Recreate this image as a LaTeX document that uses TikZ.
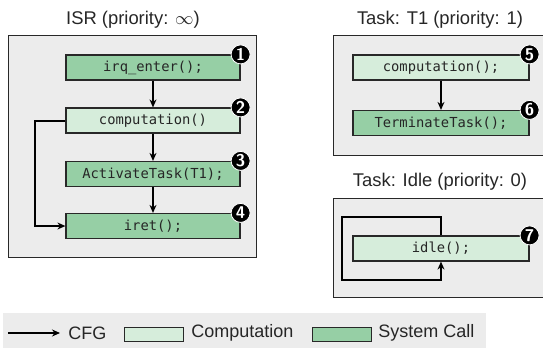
\documentclass[tikz,border=0pt]{standalone}
\usepackage{fontspec}
\setmainfont{Liberation Sans}
\setmonofont{DejaVu Sans Mono}
\usetikzlibrary{arrows.meta}
\definecolor{compfill}{RGB}{214,237,219}
\definecolor{sysfill}{RGB}{150,207,165}
\definecolor{framefill}{RGB}{236,236,236}
\definecolor{edge}{RGB}{40,40,40}
\begin{document}
\begin{tikzpicture}[x=0.5pt,y=-0.5pt,
  stmt/.style={draw=edge,line width=0.6pt,minimum width=87pt,minimum height=12.5pt,
    inner sep=0pt,font=\fontsize{6.9}{8}\ttfamily,text=black!85},
  comp/.style={stmt,fill=compfill},
  sysc/.style={stmt,fill=sysfill},
  frame/.style={draw=edge,line width=0.5pt,fill=framefill},
  title/.style={font=\fontsize{9.2}{11}\selectfont,text=black!85},
  legtext/.style={anchor=west,inner sep=0pt,font=\fontsize{9}{11}\selectfont,text=black!85},
  legbox/.style={draw=edge,line width=0.5pt,minimum width=29.5pt,minimum height=7pt,inner sep=0pt},
  badge/.style={circle,fill=black,draw=white,line width=0.4pt,minimum size=9.5pt,inner sep=0pt,
    text=white,font=\fontsize{8.5}{9}\bfseries\sffamily},
  cfg/.style={-{Stealth[length=4pt,width=3.5pt]},line width=0.75pt},
  loopedge/.style={cfg,line width=1pt}]
\useasboundingbox (0,0) rectangle (543,349);
\clip (0,0) rectangle (543,349);

% ---- ISR ----
\node[title] (isrt) at (133,20) {ISR (priority: $\infty$)};
\draw[frame] (9,35) rectangle (257,257);
\node[sysc] (irq) at (153,67.5) {irq\_enter();};
\node[comp] (comp1) at (153,120.5) {computation()};
\node[sysc] (act) at (153,174) {ActivateTask(T1);};
\node[sysc] (iret) at (153,226) {iret();};
\draw[cfg] (irq) -- (comp1);
\draw[cfg] (comp1) -- (act);
\draw[cfg] (act) -- (iret);
\draw[loopedge] (comp1.west) -- ++(-30,0) |- (iret.west);
\node[badge] (n1) at (irq.north east) {1};
\node[badge] (n2) at (comp1.north east) {2};
\node[badge] (n3) at (act.north east) {3};
\node[badge] (n4) at (iret.north east) {4};

% ---- Task T1 ----
\node[title] (t1t) at (440,20) {Task: T1 (priority: 1)};
\draw[frame] (334,35) rectangle (560,155);
\node[comp,minimum width=88pt] (comp2) at (441,67.5) {computation();};
\node[sysc,minimum width=88pt] (term) at (441,123) {TerminateTask();};
\draw[cfg] (comp2) -- (term);
\node[badge] (n5) at (comp2.north east) {5};
\node[badge] (n6) at (term.north east) {6};

% ---- Task Idle ----
\node[title] (idlet) at (440,182) {Task: Idle (priority: 0)};
\draw[frame] (334,198) rectangle (560,297);
\node[comp,minimum width=88pt] (idle) at (441,248.5) {idle();};
\coordinate (la) at (342,217);
\coordinate (lb) at (342,280);
\draw[loopedge] (idle.north) -- (idle.north |- la) -- (la) -- (lb) -- (idle.south |- lb) -- (idle.south);
\node[badge] (n7) at (idle.north east) {7};

% ---- legend ----
\fill[framefill] (3,313) rectangle (486,348);
\coordinate (ca) at (8,333);
\coordinate (cb) at (60,333);
\draw[cfg] (ca) -- (cb);
\node[legtext] (lcfg) at (68,333) {CFG};
\node[legbox,fill=compfill] (lcomp) at (154.5,334) {};
\node[legtext] (lcompt) at (191,333) {Computation};
\node[legbox,fill=sysfill] (lsys) at (342.5,334) {};
\node[legtext] (lsyst) at (378,333) {System Call};
\end{tikzpicture}
\end{document}
